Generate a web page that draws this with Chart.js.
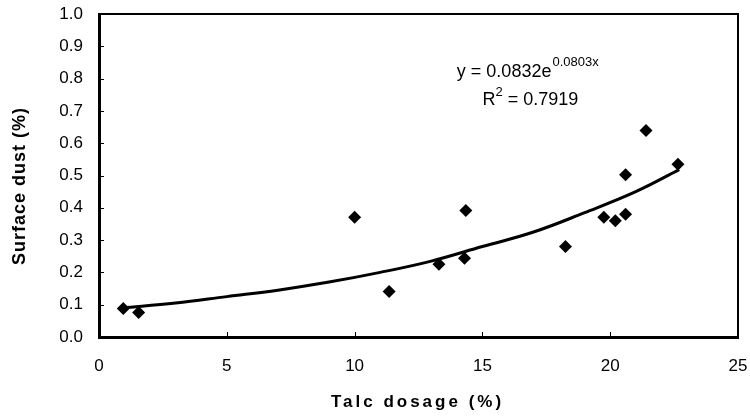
<!DOCTYPE html>
<html>
<head>
<meta charset="utf-8">
<script src="https://cdn.jsdelivr.net/npm/chart.js@4.4.1/dist/chart.umd.min.js"></script>
<style>
    html, body { margin: 0; padding: 0; background: #fff; }
    #wrap { width: 750px; height: 416px; }
</style>
</head>
<body>
<div id="wrap"><canvas id="chart-dust"></canvas></div>
<script>
// measured points (talc dosage %, surface dust %)
const talcDosage = [0.95, 1.55, 10.0, 11.35, 13.3, 14.3, 14.35, 18.25, 19.75, 20.2, 20.6, 20.6, 21.4, 22.65];
const surfaceDust = [0.088, 0.076, 0.371, 0.141, 0.225, 0.244, 0.392, 0.280, 0.371, 0.360, 0.380, 0.502, 0.639, 0.535];

// exponential trend line
const trendX = [0.9, 3, 5, 7, 9, 11, 13, 15, 17, 19, 21, 22.7];
const trendY = [0.090, 0.105, 0.125, 0.145, 0.170, 0.200, 0.235, 0.280, 0.325, 0.385, 0.450, 0.518];

const xTicks = [0, 5, 10, 15, 20, 25];
const yTicks = [0, 0.1, 0.2, 0.3, 0.4, 0.5, 0.6, 0.7, 0.8, 0.9, 1.0];

const FONT = '"Liberation Sans", Arial, sans-serif';

// frame, inner ticks, axis titles and the equation
const decorPlugin = {
    id: 'decor',
    afterDraw(chart) {
        const ctx = chart.ctx;
        const area = chart.chartArea;
        const xs = chart.scales.x;
        const ys = chart.scales.y;
        ctx.save();
        ctx.strokeStyle = '#000';

        // top and right edge of the box
        ctx.lineWidth = 2;
        ctx.beginPath();
        ctx.moveTo(area.left, area.top);
        ctx.lineTo(area.right, area.top);
        ctx.lineTo(area.right, area.bottom);
        ctx.stroke();

        // small ticks pointing into the plot
        ctx.lineWidth = 1;
        ctx.beginPath();
        xTicks.forEach(v => {
            const px = Math.round(xs.getPixelForValue(v)) + 0.5;
            ctx.moveTo(px, area.bottom);
            ctx.lineTo(px, area.bottom - 5);
        });
        yTicks.forEach(v => {
            const py = Math.round(ys.getPixelForValue(v)) + 0.5;
            ctx.moveTo(area.left, py);
            ctx.lineTo(area.left + 5, py);
        });
        ctx.stroke();

        // axis titles
        ctx.fillStyle = '#000';
        ctx.textAlign = 'center';
        ctx.textBaseline = 'middle';
        ctx.font = 'bold 17px ' + FONT;
        ctx.letterSpacing = '3px';
        ctx.fillText('Talc dosage (%)', (area.left + area.right) / 2 - 1, 402);

        ctx.save();
        ctx.translate(20, 186);
        ctx.rotate(-Math.PI / 2);
        ctx.font = 'bold 18px ' + FONT;
        ctx.letterSpacing = '1px';
        ctx.fillText('Surface dust (%)', 0, 0);
        ctx.restore();
        ctx.letterSpacing = '0px';

        // trend equation
        ctx.textAlign = 'left';
        ctx.textBaseline = 'alphabetic';
        let ex = xs.getPixelForValue(14.0);
        const ey = ys.getPixelForValue(0.805);
        ctx.font = '18px ' + FONT;
        const eq = 'y = 0.0832e';
        ctx.fillText(eq, ex, ey);
        ex += ctx.measureText(eq).width;
        ctx.font = '13px ' + FONT;
        ctx.fillText('0.0803x', ex + 1, ey - 11);

        let rx = xs.getPixelForValue(15.0);
        const ry = ys.getPixelForValue(0.718);
        ctx.font = '18px ' + FONT;
        ctx.fillText('R', rx, ry);
        rx += ctx.measureText('R').width;
        ctx.font = '13px ' + FONT;
        ctx.fillText('2', rx, ry - 9);
        rx += ctx.measureText('2').width;
        ctx.font = '18px ' + FONT;
        ctx.fillText(' = 0.7919', rx, ry);
        ctx.restore();
    }
};

new Chart(document.getElementById('chart-dust'), {
    type: 'scatter',
    data: {
        datasets: [{
            label: 'Trend',
            data: trendX.map((x, i) => ({x: x, y: trendY[i]})),
            showLine: true,
            borderColor: '#000',
            borderWidth: 3,
            pointRadius: 0,
            tension: 0.4,
            fill: false,
            order: 2
        }, {
            label: 'Surface dust',
            data: talcDosage.map((x, i) => ({x: x, y: surfaceDust[i]})),
            pointStyle: 'rectRot',
            pointRadius: 6.5,
            backgroundColor: '#000',
            borderColor: '#000',
            borderWidth: 0,
            order: 1
        }]
    },
    options: {
        responsive: true,
        maintainAspectRatio: false,
        animation: false,
        layout: {
            padding: {top: 14, right: 12, left: 0, bottom: 0}
        },
        plugins: {
            legend: {display: false},
            tooltip: {enabled: false},
            title: {display: false}
        },
        scales: {
            x: {
                type: 'linear',
                min: 0,
                max: 25,
                afterBuildTicks: scale => { scale.ticks = xTicks.map(v => ({value: v})); },
                afterFit: scale => {
                    scale.height = 79;
                    scale.paddingLeft = 0;
                    scale.paddingRight = 0;
                },
                grid: {display: false, drawTicks: false},
                border: {display: true, color: '#000', width: 3},
                ticks: {
                    color: '#000',
                    padding: 19,
                    maxRotation: 0,
                    font: {family: FONT, size: 17}
                }
            },
            y: {
                type: 'linear',
                min: 0,
                max: 1,
                afterBuildTicks: scale => { scale.ticks = yTicks.map(v => ({value: v})); },
                afterFit: scale => {
                    scale.width = 99;
                    scale.paddingTop = 0;
                    scale.paddingBottom = 0;
                },
                grid: {display: false, drawTicks: false},
                border: {display: true, color: '#000', width: 3},
                ticks: {
                    color: '#000',
                    padding: 16,
                    font: {family: FONT, size: 17},
                    callback: v => v.toFixed(1)
                }
            }
        }
    },
    plugins: [decorPlugin]
});
</script>
</body>
</html>
